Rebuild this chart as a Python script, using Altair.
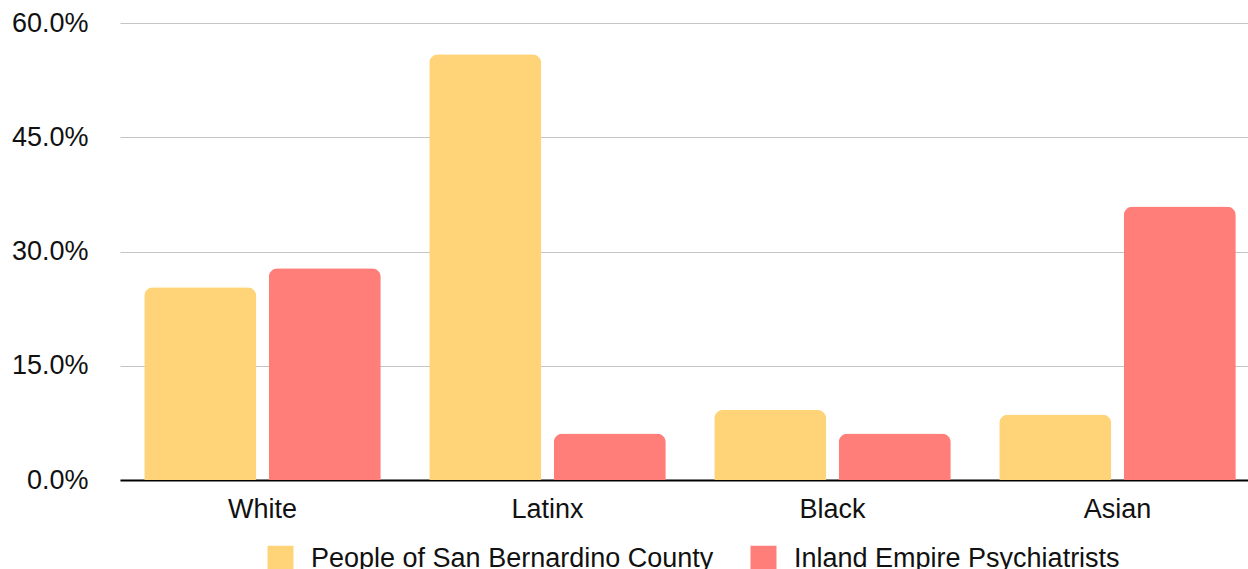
import altair as alt
import pandas as pd

# Share of each group, in percent
groups = ["White", "Latinx", "Black", "Asian"]
series = ["People of San Bernardino County", "Inland Empire Psychiatrists"]
county_pct = [25.3, 55.9, 9.2, 8.6]
psychiatrist_pct = [27.8, 6.1, 6.1, 35.9]
y_ticks = [0, 15, 30, 45, 60]
colors = ["#FFD479", "#FF7E79"]

rows = []
for g, a, b in zip(groups, county_pct, psychiatrist_pct):
    rows.append({"group": g, "series": series[0], "pct": a})
    rows.append({"group": g, "series": series[1], "pct": b})
df = pd.DataFrame(rows)

FONT = "Liberation Sans"
FS = 27

chart = (
    alt.Chart(df)
    .mark_bar(cornerRadiusTopLeft=9, cornerRadiusTopRight=9)
    .encode(
        x=alt.X(
            "group:N",
            sort=groups,
            title=None,
            scale=alt.Scale(range=[0, 1140], paddingInner=0.17, paddingOuter=0.085),
            axis=alt.Axis(
                labelAngle=0,
                labelFontSize=FS,
                labelFont=FONT,
                labelColor="#111111",
                labelPadding=16,
                ticks=False,
                domainColor="#000000",
                domainWidth=2,
                grid=False,
            ),
        ),
        xOffset=alt.XOffset(
            "series:N", sort=series, scale=alt.Scale(paddingInner=0.1)
        ),
        y=alt.Y(
            "pct:Q",
            title=None,
            scale=alt.Scale(domain=[0, 60], nice=False),
            axis=alt.Axis(
                values=y_ticks,
                labelExpr="format(datum.value, '.1f') + '%'",
                labelFontSize=FS,
                labelFont=FONT,
                labelColor="#111111",
                labelPadding=32,
                ticks=False,
                domain=False,
                gridColor="#c4c4c4",
                gridWidth=1,
            ),
        ),
        color=alt.Color(
            "series:N",
            sort=series,
            scale=alt.Scale(domain=series, range=colors),
            legend=alt.Legend(
                title=None,
                orient="none",
                legendX=147,
                legendY=522,
                direction="horizontal",
                symbolType="square",
                symbolSize=676,
                symbolStrokeWidth=0,
                symbolOpacity=1,
                labelFontSize=FS,
                labelFont=FONT,
                labelColor="#111111",
                labelOffset=17,
                labelLimit=600,
                columnPadding=36,
                padding=0,
            ),
        ),
    )
    .properties(
        width=1128,
        height=457,
        background="white",
        autosize=alt.AutoSizeParams(type="none"),
        padding={"left": 120, "top": 23, "right": 0, "bottom": 89},
    )
    .configure_view(strokeWidth=0, stroke="transparent")
)

chart.save("out.html", embed_options={"renderer": "svg", "actions": False})
